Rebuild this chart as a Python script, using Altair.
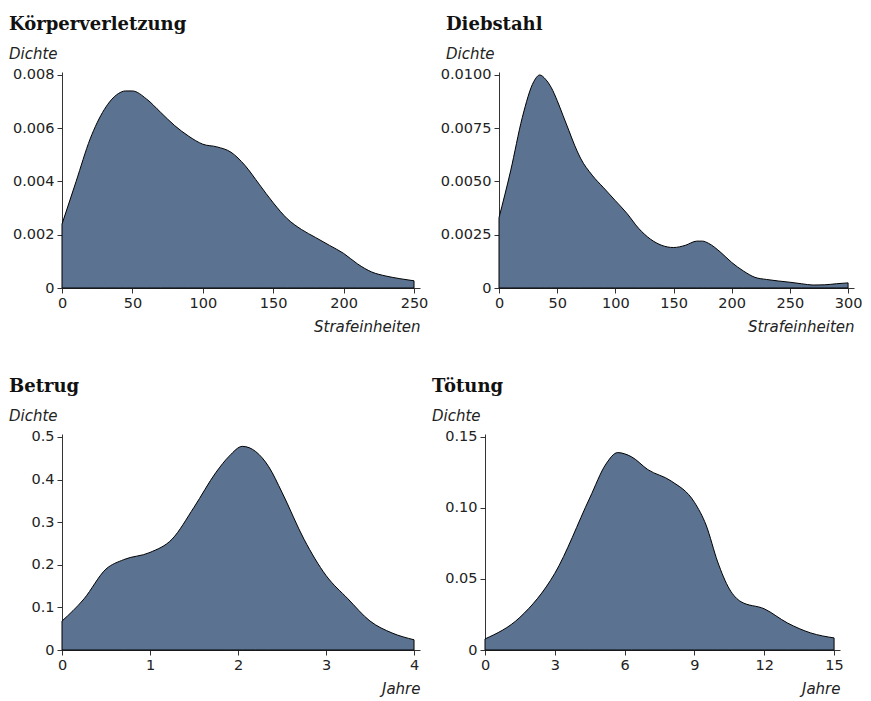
import altair as alt
import pandas as pd

# ---- data (kernel density curves) ----
koerper_x = [0, 10, 20, 30, 40, 45, 50, 60, 70, 80, 90, 100, 110, 120, 130, 140, 150, 160, 170, 180, 190, 200, 210, 220, 230, 240, 250]
koerper_y = [0.0024, 0.0040, 0.0056, 0.0067, 0.0073, 0.0074, 0.0074, 0.0071, 0.0066, 0.0061, 0.0057, 0.0054, 0.0053, 0.0051, 0.0046, 0.0039, 0.0032, 0.0026, 0.0022, 0.0019, 0.0016, 0.0013, 0.0009, 0.0006, 0.00045, 0.00035, 0.00027]

dieb_x = [0, 10, 20, 30, 35, 40, 45, 50, 55, 60, 65, 70, 80, 90, 100, 110, 120, 130, 140, 150, 160, 170, 175, 180, 190, 200, 210, 220, 230, 240, 250, 260, 270, 280, 290, 300]
dieb_y = [0.0033, 0.0055, 0.0080, 0.0097, 0.0100, 0.0098, 0.0094, 0.0088, 0.0081, 0.0074, 0.0067, 0.0061, 0.0053, 0.0047, 0.0041, 0.0035, 0.0028, 0.0023, 0.0020, 0.0019, 0.0020, 0.0022, 0.0022, 0.0021, 0.0017, 0.0012, 0.0008, 0.0005, 0.0004, 0.00033, 0.00027, 0.0002, 0.00014, 0.00015, 0.0002, 0.00024]

betrug_x = [0, 0.25, 0.5, 0.7, 1.0, 1.25, 1.5, 1.75, 1.9, 2.05, 2.2, 2.35, 2.5, 2.75, 3.0, 3.25, 3.5, 3.75, 4.0]
betrug_y = [0.068, 0.12, 0.19, 0.212, 0.229, 0.26, 0.335, 0.417, 0.455, 0.478, 0.466, 0.43, 0.37, 0.26, 0.175, 0.12, 0.068, 0.04, 0.024]

toet_x = [0, 1.5, 3, 4.5, 5.2, 5.7, 6.3, 7, 8, 9, 9.5, 10, 10.5, 11, 12, 13, 14, 15]
toet_y = [0.0078, 0.023, 0.054, 0.107, 0.131, 0.139, 0.136, 0.127, 0.119, 0.104, 0.088, 0.062, 0.043, 0.034, 0.029, 0.019, 0.012, 0.0085]

titles = ["Körperverletzung", "Diebstahl", "Betrug", "Tötung"]
x_titles = ["Strafeinheiten", "Strafeinheiten", "Jahre", "Jahre"]
x_ticks = [[0, 50, 100, 150, 200, 250], [0, 50, 100, 150, 200, 250, 300], [0, 1, 2, 3, 4], [0, 3, 6, 9, 12, 15]]
y_ticks = [[0, 0.002, 0.004, 0.006, 0.008], [0, 0.0025, 0.005, 0.0075, 0.01], [0, 0.1, 0.2, 0.3, 0.4, 0.5], [0, 0.05, 0.1, 0.15]]
y_formats = [".3f", ".4f", ".1f", ".2f"]

FILL = "#5b7391"
WIDTHS = [358, 355, 358, 355]
H = 216


def panel(i, xs, ys):
    df = pd.DataFrame({"x": xs, "y": ys})
    xmax = x_ticks[i][-1] * 1.017
    ymax = y_ticks[i][-1] * 1.014
    fmt = y_formats[i]
    return (
        alt.Chart(
            df,
            title=alt.TitleParams(
                titles[i], subtitle="Dichte", anchor="start", frame="group", dx=-53, offset=5
            ),
        )
        .mark_area(interpolate="monotone", fill=FILL, fillOpacity=1, stroke="black", strokeWidth=1)
        .encode(
            x=alt.X(
                "x:Q",
                scale=alt.Scale(domain=[0, xmax], nice=False, zero=False),
                axis=alt.Axis(values=x_ticks[i], title=x_titles[i], titleAnchor="end", titleAlign="right",
                              titlePadding=10, labelFlush=False, format="d"),
            ),
            y=alt.Y(
                "y:Q",
                scale=alt.Scale(domain=[0, ymax], nice=False),
                axis=alt.Axis(values=y_ticks[i], title=None,
                              labelExpr=f"datum.value == 0 ? '0' : format(datum.value, '{fmt}')"),
            ),
        )
        .properties(width=WIDTHS[i], height=H)
    )


p1 = panel(0, koerper_x, koerper_y)
p2 = panel(1, dieb_x, dieb_y)
p3 = panel(2, betrug_x, betrug_y)
p4 = panel(3, toet_x, toet_y)

chart = (
    alt.vconcat(alt.hconcat(p1, p2, spacing=12), alt.hconcat(p3, p4, spacing=12), spacing=42)
    .properties(padding={"left": 1, "top": 7, "right": 0, "bottom": 0})
    .configure_view(stroke=None)
    .configure_axis(
        labelFont="DejaVu Sans", labelFontSize=14.5, labelColor="#222",
        titleFont="DejaVu Sans", titleFontSize=15, titleFontStyle="italic", titleFontWeight="normal", titleColor="#222",
        domainColor="#333", tickColor="#333", tickSize=5, grid=False, labelPadding=3,
    )
    .configure_title(
        font="DejaVu Serif", fontSize=18, fontWeight="bold", color="#111",
        subtitleFont="DejaVu Sans", subtitleFontSize=15, subtitleFontStyle="italic", subtitleColor="#222",
        subtitlePadding=13,
    )
)

chart.save("out.html", embed_options={"renderer": "svg", "actions": False})
